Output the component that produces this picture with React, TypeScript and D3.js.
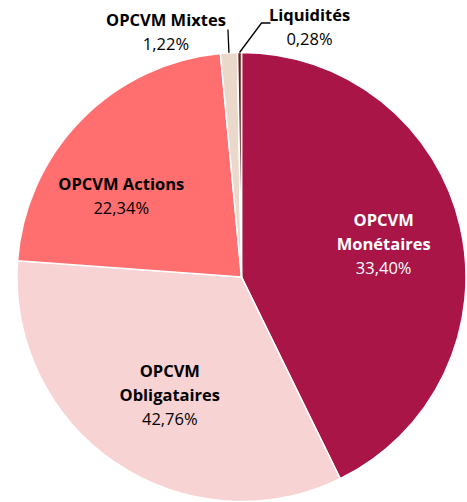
import React from "react";
import * as d3 from "d3";

const categories = ["OPCVM Monétaires", "OPCVM Obligataires", "OPCVM Actions", "OPCVM Mixtes", "Liquidités"];
const values = [42.76, 33.4, 22.34, 1.22, 0.28];
const valueLabels = ["33,40%", "42,76%", "22,34%", "1,22%", "0,28%"];
const nameLines = [["OPCVM", "Monétaires"], ["OPCVM", "Obligataires"], ["OPCVM Actions"], ["OPCVM Mixtes"], ["Liquidités"]];
const colors = ["#A91547", "#F8D3D3", "#FF6F6F", "#EAD9CB", "#6B1A1A"];
const textColors = ["#ffffff", "#000000", "#000000", "#000000", "#000000"];

const W = 467, H = 502;
const cx = 241.5, cy = 277, R = 224.5;
const FONT = "'Open Sans', sans-serif";
const FS = 16.5;
const insideShift: [number, number][] = [[0, 0], [10, -3], [-16, 21]];

export default function App() {
  const pie = d3.pie<number>().value((d) => d).sort(null);
  const arcs = pie(values);
  const arc = d3.arc<d3.PieArcDatum<number>>().innerRadius(0).outerRadius(R);
  const labelArc = d3.arc<d3.PieArcDatum<number>>().innerRadius(R * 0.65).outerRadius(R * 0.65);
  const lh = 24;

  return (
    <svg width={W} height={H} style={{ position: "absolute", left: 0, top: 0 }}>
      <g transform={`translate(${cx},${cy})`}>
        {arcs.map((a, i) => (
          <path key={i} d={arc(a) || ""} fill={colors[i]} stroke="#fff" strokeWidth={1.5} />
        ))}
        {arcs.map((a, i) => {
          if (i > 2) return null;
          const [x0, y] = labelArc.centroid(a);
          const x = x0 + insideShift[i][0];
          const lines = [...nameLines[i], valueLabels[i]];
          const y0 = y + insideShift[i][1] - ((lines.length - 1) * lh) / 2;
          return (
            <text key={i} textAnchor="middle" fontFamily={FONT} fontSize={FS} fill={textColors[i]}>
              {lines.map((t, j) => (
                <tspan key={j} x={x} y={y0 + j * lh} dy="0.35em" fontWeight={j < lines.length - 1 ? "bold" : "normal"}>
                  {t}
                </tspan>
              ))}
            </text>
          );
        })}
        {arcs.map((a, i) => {
          if (i < 3) return null;
          const mid = (a.startAngle + a.endAngle) / 2;
          const px = Math.sin(mid) * R;
          const py = -Math.cos(mid) * R;
          const pts: [number, number][] =
            i === 3
              ? [[px, py], [px - 1, -R - 23]]
              : [[px, py], [px + 22, -R - 29.5], [px + 31, -R - 29.5]];
          const line = d3.line()(pts) || "";
          const tx = i === 3 ? px - 63 : px + 70;
          const ty = i === 3 ? -R - 32 : -R - 37;
          return (
            <g key={i}>
              <path d={line} fill="none" stroke="#000" strokeWidth={1.3} />
              <text textAnchor="middle" fontFamily={FONT} fontSize={FS} fill="#000">
                <tspan x={tx} y={ty} dy="0.35em" fontWeight="bold">{nameLines[i][0]}</tspan>
                <tspan x={tx} y={ty + lh} dy="0.35em">{valueLabels[i]}</tspan>
              </text>
            </g>
          );
        })}
      </g>
    </svg>
  );
}
